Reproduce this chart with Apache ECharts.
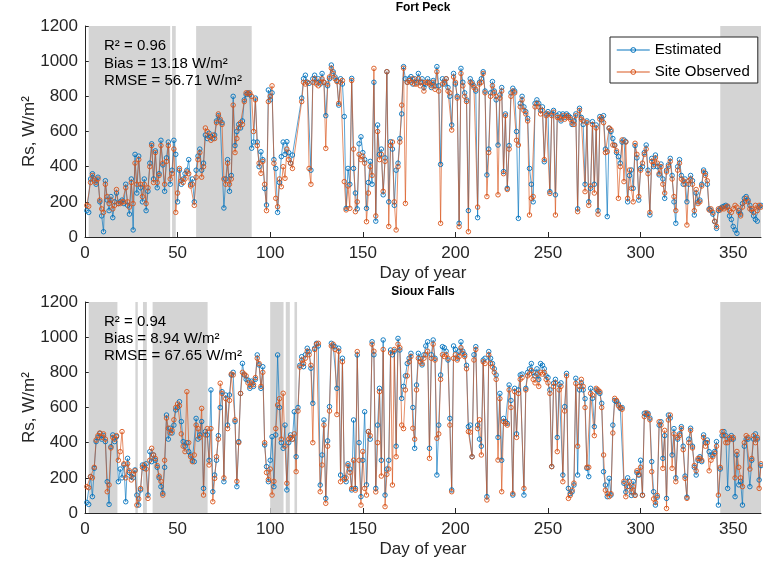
<!DOCTYPE html>
<html><head><meta charset="utf-8">
<script src="https://cdn.jsdelivr.net/npm/echarts@6/dist/echarts.min.js"></script>
<style>html,body{margin:0;padding:0;background:#fff}#c{width:763px;height:562px}</style>
</head><body><div id="c"></div>
<script>
// ---- data (day of year 1..365) ----
const fpEst=[150,140,330,360,330,300,340,200,120,30,
320,210,150,230,110,200,250,190,200,210,
190,300,180,130,330,40,470,250,460,280,
200,330,150,260,420,530,330,490,280,360,
550,410,260,450,540,300,380,550,470,200,
380,300,330,360,380,440,300,330,200,380,
460,500,380,420,580,560,590,570,560,580,
660,690,660,650,165,330,440,260,350,800,
520,600,640,620,660,780,810,820,810,505,
540,790,540,400,485,440,276,182,836,780,
820,440,390,140,310,457,540,470,542,480,
420,466,null,null,null,null,790,900,920,880,
874,380,900,920,880,900,870,930,880,690,
860,900,978,940,910,890,750,900,870,685,
163,390,300,902,390,250,160,530,570,480,
440,163,310,430,300,880,90,637,470,500,
240,450,940,200,542,500,180,380,420,560,
700,969,900,880,900,912,870,900,880,930,
880,900,850,870,900,880,850,890,860,969,
860,413,900,870,900,850,800,637,930,870,
800,78,959,880,820,780,150,900,880,860,
830,110,880,900,940,830,353,500,820,884,
830,780,523,808,850,372,700,277,520,820,
846,830,600,106,760,800,740,713,675,390,
300,200,760,780,760,720,740,428,700,713,
258,700,720,240,690,700,660,700,680,700,
690,680,640,660,700,160,732,680,640,300,
660,200,277,656,300,637,150,685,666,690,
500,116,618,600,560,523,480,457,420,540,
552,542,200,350,381,277,520,450,210,390,
400,480,523,380,125,447,400,466,400,353,
415,330,220,380,410,447,350,200,78,400,
440,350,300,330,200,300,350,320,125,250,
200,210,300,381,362,300,160,150,130,87,
49,150,163,170,175,180,170,120,100,60,
40,21,150,130,190,220,230,210,180,150,
120,100,90,170,180];
const fpObs=[180,175,310,350,320,310,330,210,160,140,
300,230,190,210,160,180,270,190,190,200,
200,280,200,170,310,190,420,300,440,300,
230,300,190,280,400,520,310,480,310,350,
520,420,300,430,520,330,360,500,140,250,
390,320,310,330,370,360,290,300,180,340,
440,480,340,400,620,600,570,550,580,560,
650,700,670,640,330,300,420,300,330,750,
480,560,620,650,640,770,820,815,820,800,
600,780,520,420,362,430,300,150,770,800,
860,419,220,172,330,286,400,334,500,440,
420,390,null,null,null,null,770,880,870,880,
390,300,880,900,870,860,880,900,880,504,
870,910,960,930,900,884,760,880,890,315,
154,290,163,890,500,144,200,470,440,460,
420,87,250,400,350,959,120,600,440,470,
260,430,940,60,520,540,200,40,400,540,
750,960,191,880,890,880,900,870,870,900,
860,880,830,880,880,870,860,880,840,940,
830,78,870,880,900,830,820,608,910,880,
790,59,930,860,800,770,30,880,870,850,
840,170,870,880,930,820,230,480,800,860,
820,800,240,790,830,360,690,270,500,800,
830,820,550,523,740,780,720,700,660,125,
220,230,740,760,740,700,720,440,690,700,
248,690,710,125,680,680,670,690,670,690,
680,670,650,640,690,144,720,670,660,258,
650,180,290,640,250,620,130,670,680,650,
480,485,620,610,523,520,490,220,400,552,
315,540,220,381,277,200,533,470,230,380,
420,470,500,360,140,430,410,450,420,360,
400,300,250,370,400,430,330,230,150,380,
420,330,320,300,68,320,330,300,150,270,
190,200,290,370,350,320,154,160,140,90,
60,160,154,165,160,170,175,150,140,160,
180,170,140,120,170,200,220,200,160,160,
140,180,150,180,170];
const sfEst=[60,49,207,93,254,406,430,453,420,440,
406,178,49,377,444,406,434,178,250,200,
273,64,311,230,207,200,245,102,45,131,
273,254,280,102,349,292,330,300,260,200,
150,112,260,557,420,482,455,500,586,600,
633,520,406,380,400,349,330,300,292,538,
420,444,520,140,463,444,300,700,121,216,
300,440,600,690,178,671,500,671,785,800,
520,150,406,680,851,785,760,756,709,750,
720,760,899,842,709,832,387,264,178,300,
434,150,444,899,600,400,368,500,131,400,
444,420,576,320,600,840,889,832,900,937,
918,823,624,937,965,950,159,330,529,83,
410,605,965,950,946,709,937,216,880,200,
178,280,250,131,529,140,899,400,93,300,
576,160,463,420,974,900,140,500,709,300,
984,102,250,300,927,900,920,380,993,927,
652,720,780,850,880,908,600,368,728,908,
880,842,900,950,974,368,900,984,880,216,
500,785,946,940,920,870,538,131,950,930,
880,920,974,920,900,840,491,500,320,900,
946,500,420,380,870,880,93,918,880,850,
820,785,430,680,300,538,520,510,728,640,
102,709,450,700,785,790,102,709,800,820,
850,800,780,820,760,850,840,820,780,770,
700,264,738,760,430,730,740,216,605,794,
140,110,120,159,766,216,700,740,700,650,
254,207,709,652,491,700,690,680,624,235,
159,93,197,102,500,640,633,620,595,600,
169,120,200,150,100,180,102,230,215,300,
102,567,560,567,540,292,121,45,90,500,
519,311,440,83,557,540,330,480,200,420,
450,491,380,210,90,420,482,380,260,216,
300,320,292,444,400,415,349,330,330,350,
406,45,250,440,463,440,140,420,440,420,
93,330,160,180,45,380,420,420,150,300,
420,450,420,188,270];
const sfObs=[150,144,207,200,260,415,440,455,430,450,
420,121,160,370,430,420,440,300,349,463,
280,200,280,240,188,220,240,45,80,140,
260,273,250,83,300,368,330,310,270,210,
180,102,300,540,482,455,470,530,600,620,
610,450,380,349,690,400,320,292,330,500,
480,430,595,102,444,480,273,480,64,197,
320,420,738,680,200,650,480,640,790,785,
530,180,400,680,800,790,780,740,720,740,
730,770,880,850,720,800,400,230,190,250,
102,180,480,614,650,420,681,380,169,420,
430,420,450,235,580,830,870,850,880,920,
900,840,400,930,960,965,121,273,500,55,
380,580,950,960,930,560,920,178,860,190,
200,270,230,140,300,130,918,300,45,350,
140,102,463,440,960,920,120,400,690,210,
930,36,220,250,910,159,930,320,960,940,
500,480,700,780,860,890,482,420,700,880,
860,850,880,900,920,311,880,960,870,425,
450,760,900,890,900,880,500,121,880,900,
870,890,940,908,890,820,463,460,320,870,
930,480,530,330,860,850,74,900,850,830,
800,760,301,650,121,520,510,500,700,600,
110,690,430,680,760,770,140,700,780,790,
810,760,740,790,720,800,790,800,760,740,
680,264,720,740,349,700,720,178,580,780,
83,100,130,170,737,380,720,760,720,600,
260,260,680,670,440,709,700,690,600,330,
130,110,93,110,455,652,640,610,600,590,
180,93,150,178,120,150,100,240,220,260,
100,548,570,560,530,235,80,60,100,519,
500,254,470,26,529,557,254,450,178,430,
440,480,360,197,83,400,470,370,270,240,
310,311,300,430,380,400,240,300,320,340,
380,102,260,463,440,400,400,430,420,430,
200,350,260,200,150,400,440,430,250,310,
440,400,430,140,280];
// shaded periods (day ranges)
const fpShade=[[2,46],[47,49],[60,90],[343,365]];
const sfShade=[[2,17.5],[27.2,28.5],[31.3,33.4],[36.5,66.2],[100,107.2],[108.4,110.6],[113.1,114.5],[343,365]];
const xTicks={min:0,max:365,step:50};
const yTicks={min:0,max:1200,step:200};
const names=['Estimated','Site Observed'];
const panelTitles=['Fort Peck','Sioux Falls'];
const statsFP=['R² = 0.96','Bias = 13.18 W/m²','RMSE = 56.71 W/m²'];
const statsSF=['R² = 0.94','Bias = 8.94 W/m²','RMSE = 67.65 W/m²'];

const FONT='"Liberation Sans", Arial, Helvetica, sans-serif';
const INK='#262626';
const BLUE='#0072BD', ORANGE='#D95319';
function pairs(a){return a.map((v,i)=>[i+1,v]);}
function xAxis(gi){return {type:'value',gridIndex:gi,min:xTicks.min,max:xTicks.max,interval:xTicks.step,
  name:'Day of year',nameLocation:'middle',nameGap:28,nameMoveOverlap:false,
  nameTextStyle:{fontSize:17,color:INK,fontFamily:FONT},
  axisLine:{show:true,onZero:false,lineStyle:{color:INK,width:1}},
  axisTick:{show:true,inside:true,length:5,lineStyle:{color:INK}},
  axisLabel:{fontSize:17,color:INK,fontFamily:FONT,margin:8,showMaxLabel:false,formatter:v=>String(v)},
  splitLine:{show:false}};}
function yAxis(gi){return {type:'value',gridIndex:gi,min:yTicks.min,max:yTicks.max,interval:yTicks.step,
  name:'Rs, W/m²',nameLocation:'middle',nameGap:47,nameMoveOverlap:false,
  nameTextStyle:{fontSize:17,color:INK,fontFamily:FONT},
  axisLine:{show:true,onZero:false,lineStyle:{color:INK,width:1}},
  axisTick:{show:true,inside:true,length:5,lineStyle:{color:INK}},
  axisLabel:{fontSize:17,color:INK,fontFamily:FONT,margin:7,formatter:v=>String(v)},
  splitLine:{show:false}};}
function shadeSeries(gi,ranges){return {type:'line',xAxisIndex:gi,yAxisIndex:gi,data:[],silent:true,
  markArea:{silent:true,itemStyle:{color:'#d4d4d4'},data:ranges.map(r=>[{xAxis:r[0]},{xAxis:r[1]}])}};}
function lineSeries(gi,name,arr,col,rgb){return {type:'line',name:name,xAxisIndex:gi,yAxisIndex:gi,data:pairs(arr),
  connectNulls:true,symbol:'circle',symbolSize:4.5,showSymbol:true,
  lineStyle:{color:'rgba('+rgb+',0.65)',width:1},
  itemStyle:{color:'rgba(255,255,255,0)',borderColor:col,borderWidth:0.9},
  emphasis:{disabled:true}};}
function textEl(x,y,t,font,align){return {type:'text',x:x,y:y,silent:true,z:100,
  style:{text:t,font:font,fill:'#000',textAlign:align,align:align,textVerticalAlign:'middle',verticalAlign:'middle'}};}

const graphics=[
  textEl(423,8,panelTitles[0],'bold 12px '+FONT,'center'),
  textEl(423,292,panelTitles[1],'bold 12px '+FONT,'center')
];
[46,64,81].forEach((y,i)=>graphics.push(textEl(104,y,statsFP[i],'15px '+FONT,'left')));
[322,339,356].forEach((y,i)=>graphics.push(textEl(104,y,statsSF[i],'15px '+FONT,'left')));

const chart=echarts.init(document.getElementById('c'),null,{renderer:'canvas'});
chart.setOption({
  animation:false,
  backgroundColor:'#fff',
  grid:[{left:85,top:26,width:676,height:211},{left:85,top:302,width:676,height:211}],
  xAxis:[xAxis(0),xAxis(1)],
  yAxis:[yAxis(0),yAxis(1)],
  legend:{data:names,orient:'vertical',left:610,top:37,itemWidth:33,itemHeight:6,itemGap:6,
    padding:[5,8,3,6],borderColor:INK,borderWidth:1,borderRadius:0,backgroundColor:'#fff',
    lineStyle:{width:1.5},itemStyle:{borderWidth:1},
    textStyle:{fontSize:15,color:'#000',fontFamily:FONT,lineHeight:16},selectedMode:false},
  series:[
    shadeSeries(0,fpShade),
    lineSeries(0,names[0],fpEst,BLUE,'0,114,189'),
    lineSeries(0,names[1],fpObs,ORANGE,'217,83,25'),
    shadeSeries(1,sfShade),
    lineSeries(1,names[0],sfEst,BLUE,'0,114,189'),
    lineSeries(1,names[1],sfObs,ORANGE,'217,83,25')
  ],
  graphic:graphics
});
</script></body></html>
